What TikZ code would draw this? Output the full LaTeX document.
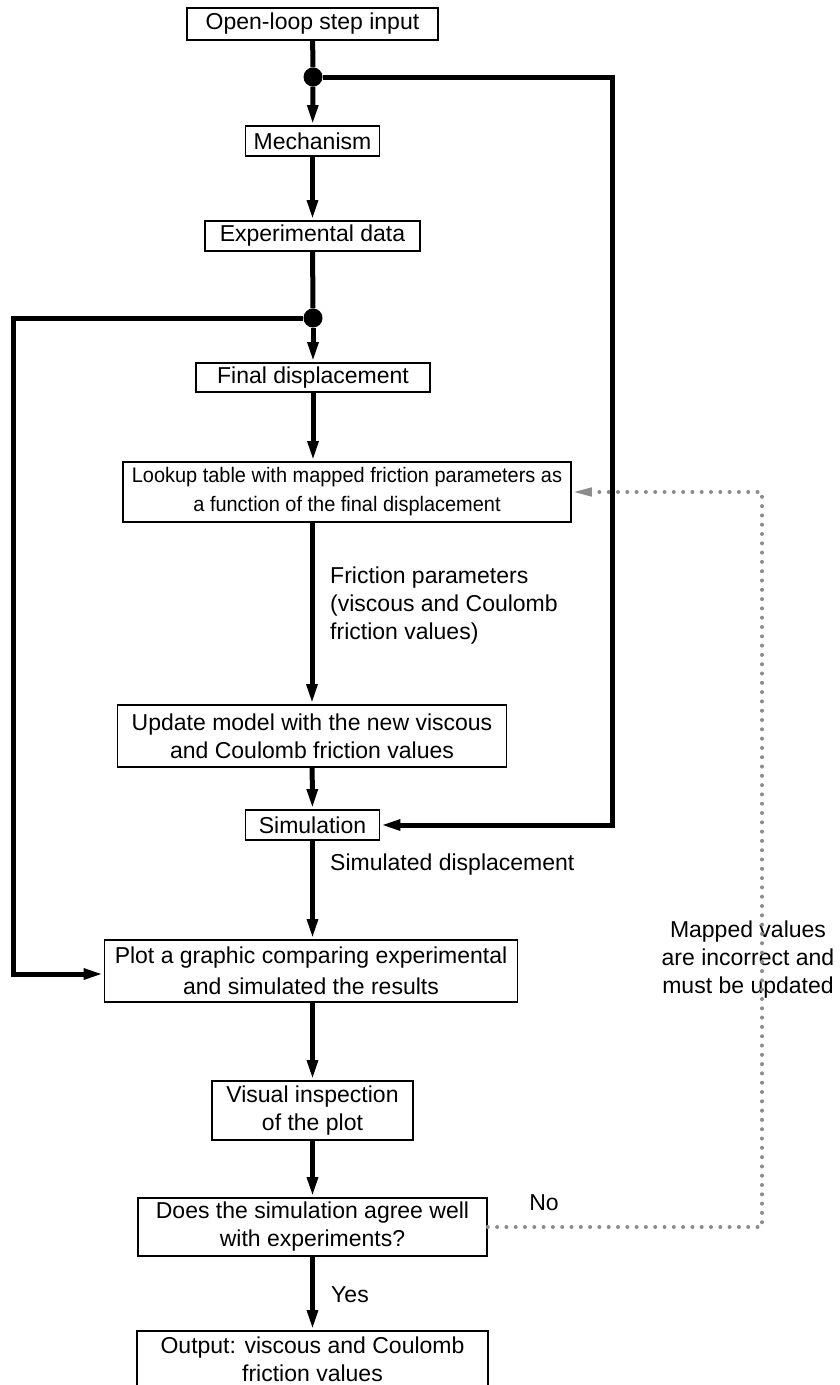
\documentclass[tikz,border=0pt]{standalone}
\usepackage{fontspec}
\setmainfont{Liberation Sans}
\newfontfamily\narrowsans{Liberation Sans}[FakeStretch=0.95]
\usetikzlibrary{arrows.meta}
\definecolor{dotgray}{RGB}{140,140,140}
\begin{document}
\begin{tikzpicture}[x=1pt,y=-1pt,
  txt/.style={font=\fontsize{23}{28}\selectfont},
  box/.style={txt, draw=black, line width=1.6pt, fill=white, inner sep=0pt, align=center},
  lbl/.style={txt, inner sep=0pt, align=left},
  wire/.style={line width=5pt},
  flow/.style={wire, -{Triangle[length=20pt,width=10pt]}},
  back/.style={draw=dotgray, line width=4pt, line cap=round, dash pattern=on 0pt off 9.3pt,
    -{Triangle[length=20pt,width=8pt,fill=dotgray]}},
  junction/.style={circle, fill=black, inner sep=0pt, minimum size=19pt}
]
\useasboundingbox (0,0) rectangle (840,1385);
\clip (0,0) rectangle (840,1385);

% boxes of the flow chart
\node[box, minimum width=251pt, minimum height=32pt] (open) at (312.5,24) {Open-loop step input};
\node[junction] (j1) at (313,77) {};
\node[box, minimum width=134pt, minimum height=30pt] (mech) at (312.5,141) {Mechanism};
\node[box, minimum width=215pt, minimum height=30pt] (exp) at (312.5,236) {Experimental data};
\node[junction] (j2) at (313,318) {};
\node[box, minimum width=234pt, minimum height=29pt] (final) at (313,377.5) {Final displacement};
\node[box, minimum width=448pt, minimum height=60pt, font=\narrowsans\fontsize{21}{29}\selectfont] (lookup) at (347,492)
  {Lookup table with mapped friction parameters as\\a function of the final displacement};
\node[box, minimum width=389pt, minimum height=62pt] (update) at (312,736)
  {Update model with the new viscous\\and Coulomb friction values};
\node[box, minimum width=134pt, minimum height=30pt] (sim) at (312.5,825) {Simulation};
\node[box, minimum width=413pt, minimum height=62pt, font=\fontsize{23}{31}\selectfont] (plot) at (311,971)
  {Plot a graphic comparing experimental\\and simulated the results};
\node[box, minimum width=201pt, minimum height=59pt] (visual) at (312.5,1110.5)
  {Visual inspection\\of the plot};
\node[box, minimum width=349pt, minimum height=58pt] (does) at (312.5,1227)
  {Does the simulation agree well\\with experiments?};
\node[box, minimum width=351pt, minimum height=57pt] (output) at (312.5,1359.5)
  {Output: viscous and Coulomb\\friction values};

% labels
\node[lbl, anchor=west] (fric) at (330,606)
  {Friction parameters\\(viscous and Coulomb\\friction values)};
\node[lbl, anchor=west] (simd) at (330,865) {Simulated displacement};
\node[lbl, align=center] (mapped) at (748,960)
  {Mapped values\\are incorrect and\\must be updated};
\node[lbl] (no) at (544,1203) {No};
\node[lbl] (yes) at (350,1295) {Yes};

% routing corners
\coordinate (rt) at (612,0);
\coordinate (lf) at (13,0);
\coordinate (dr) at (762,0);
\coordinate (plotin) at (0,974);

% feedback and side branches (drawn first, under the label text)
\draw[back] (does.east) -- (does.east -| dr) -- (dr |- lookup.east) -- (lookup.east);
\draw[flow] (j1) -- (j1 -| rt) -- (rt |- sim.east) -- (sim.east);
\draw[flow] (j2) -- (j2 -| lf) -- (lf |- plotin) -- (plot.west |- plotin);

% main flow
\draw[wire] (open) -- (j1);
\draw[flow] (j1) -- (mech);
\draw[flow] (mech) -- (exp);
\draw[wire] (exp) -- (j2);
\draw[flow] (j2) -- (final);
\draw[flow] (final) -- (final.south |- lookup.north);
\draw[flow] (lookup.south -| update) -- (update);
\draw[flow] (update) -- (sim);
\draw[flow] (sim) -- (sim |- plot.north);
\draw[flow] (plot.south -| visual) -- (visual);
\draw[flow] (visual) -- (does);
\draw[flow] (does) -- (output);
\end{tikzpicture}
\end{document}
